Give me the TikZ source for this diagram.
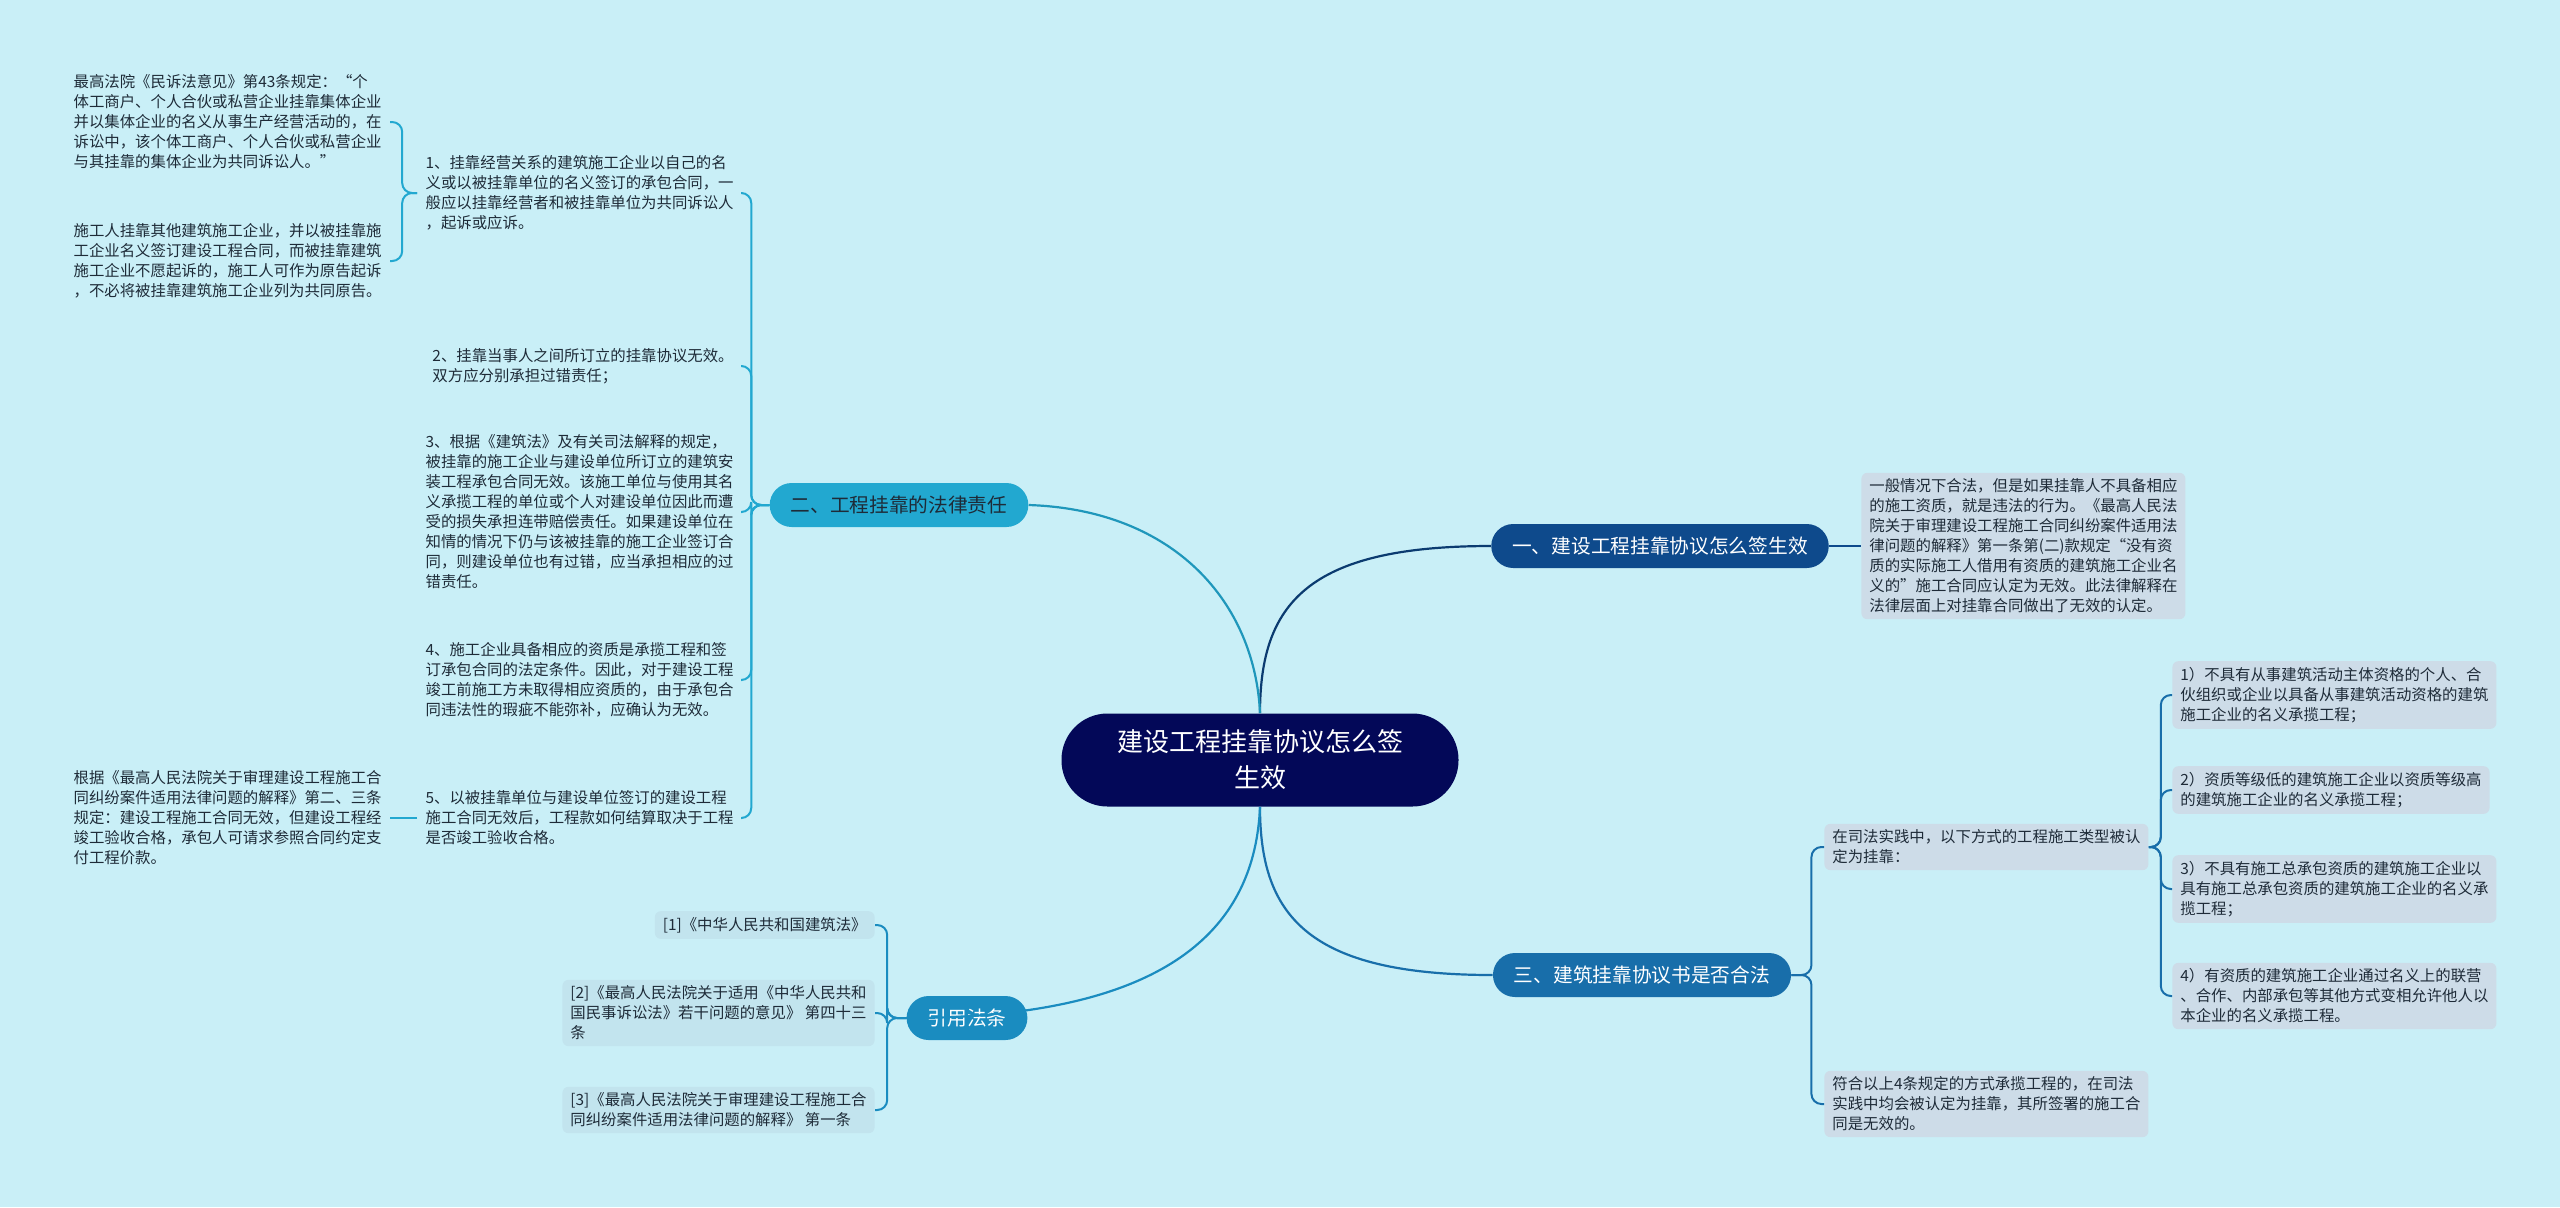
\documentclass[tikz,border=0pt]{standalone}
\usepackage{fontspec}
\setmainfont{Noto Sans CJK SC}
\definecolor{bgcol}{HTML}{C9EFF7}
\definecolor{rootcol}{HTML}{030858}
\definecolor{onecol}{HTML}{0E4A8C}
\definecolor{twocol}{HTML}{22A8D0}
\definecolor{threecol}{HTML}{186EAA}
\definecolor{refcol}{HTML}{1A8CC0}
\definecolor{leafcol}{HTML}{CDDCE8}
\definecolor{reffill}{HTML}{C2E4EE}
\definecolor{inkcol}{HTML}{1E2B38}
\begin{document}
\begin{tikzpicture}[x=0.5pt,y=-0.5pt,
    every node/.style={font=\fontsize{7.7pt}{10pt}\selectfont, text=inkcol},
    topic/.style={rounded corners=11pt, minimum height=22pt, inner xsep=10.5pt,
        font=\fontsize{9.85pt}{12pt}\selectfont, text=white},
    leaf/.style={align=left, inner xsep=4pt, inner ysep=3pt, rounded corners=3pt},
    main/.style={line width=1.1pt},
    brk/.style={line width=1pt, rounded corners=5pt}]
    \fill[bgcol] (0,0) rectangle (2560,1207);

    \node[fill=rootcol, rounded corners=23pt, minimum width=198.5pt, minimum height=46.5pt,
        align=center, text=white, font=\fontsize{13pt}{18pt}\selectfont] (root) at (1260,760)
        {建设工程挂靠协议怎么签\\生效};
    \node[topic, fill=onecol] (one) at (1660,546) {一、建设工程挂靠协议怎么签生效};
    \node[topic, fill=twocol, text=inkcol] (two) at (899,505) {二、工程挂靠的法律责任};
    \node[topic, fill=threecol] (three) at (1642,975) {三、建筑挂靠协议书是否合法};
    \node[topic, fill=refcol] (cite) at (967,1018) {引用法条};

    \draw[main, draw=onecol!80!black] (root.north) .. controls (1260,604) and (1307,546) .. (one.west);
    \draw[main, draw=twocol!90!black] (root.north) .. controls (1255,604) and (1176,510) .. (two.east);
    \draw[main, draw=threecol] (root.south) .. controls (1260,915) and (1307,975) .. (three.west);
    \draw[main, draw=refcol] (root.south) .. controls (1255,923) and (1176,1018) .. (cite.west);

    % 一
    \node[leaf, fill=leafcol, anchor=west] (oneA) at (1861,546)
        {一般情况下合法，但是如果挂靠人不具备相应\\的施工资质，就是违法的行为。《最高人民法\\院关于审理建设工程施工合同纠纷案件适用法\\律问题的解释》第一条第(二)款规定“没有资\\质的实际施工人借用有资质的建筑施工企业名\\义的”施工合同应认定为无效。此法律解释在\\法律层面上对挂靠合同做出了无效的认定。};
    \draw[brk, draw=onecol] (one.east) -- (oneA.west);

    % 三
    \node[leaf, fill=leafcol, anchor=west] (practice) at (1824,847)
        {在司法实践中，以下方式的工程施工类型被认\\定为挂靠：};
    \node[leaf, fill=leafcol, anchor=west] (verdict) at (1824,1104)
        {符合以上4条规定的方式承揽工程的，在司法\\实践中均会被认定为挂靠，其所签署的施工合\\同是无效的。};
    \node[leaf, fill=leafcol, anchor=west] (typeA) at (2172,695)
        {1）不具有从事建筑活动主体资格的个人、合\\伙组织或企业以具备从事建筑活动资格的建筑\\施工企业的名义承揽工程；};
    \node[leaf, fill=leafcol, anchor=west] (typeB) at (2172,790)
        {2）资质等级低的建筑施工企业以资质等级高\\的建筑施工企业的名义承揽工程；};
    \node[leaf, fill=leafcol, anchor=west] (typeC) at (2172,889)
        {3）不具有施工总承包资质的建筑施工企业以\\具有施工总承包资质的建筑施工企业的名义承\\揽工程；};
    \node[leaf, fill=leafcol, anchor=west] (typeD) at (2172,996)
        {4）有资质的建筑施工企业通过名义上的联营\\、合作、内部承包等其他方式变相允许他人以\\本企业的名义承揽工程。};
    \foreach \kid in {practice,verdict}
        \draw[brk, draw=threecol] (three.east) -- ++(10pt,0) |- (\kid.west);
    \foreach \kid in {typeA,typeB,typeC,typeD}
        \draw[brk, draw=threecol] (practice.east) -- ++(6pt,0) |- (\kid.west);

    % 二
    \node[leaf, anchor=east] (dutyA) at (742,193)
        {1、挂靠经营关系的建筑施工企业以自己的名\\义或以被挂靠单位的名义签订的承包合同，一\\般应以挂靠经营者和被挂靠单位为共同诉讼人\\，起诉或应诉。};
    \node[leaf, anchor=east] (dutyB) at (742,366)
        {2、挂靠当事人之间所订立的挂靠协议无效。\\双方应分别承担过错责任；};
    \node[leaf, anchor=east] (dutyC) at (742,512)
        {3、根据《建筑法》及有关司法解释的规定，\\被挂靠的施工企业与建设单位所订立的建筑安\\装工程承包合同无效。该施工单位与使用其名\\义承揽工程的单位或个人对建设单位因此而遭\\受的损失承担连带赔偿责任。如果建设单位在\\知情的情况下仍与该被挂靠的施工企业签订合\\同，则建设单位也有过错，应当承担相应的过\\错责任。};
    \node[leaf, anchor=east] (dutyD) at (742,680)
        {4、施工企业具备相应的资质是承揽工程和签\\订承包合同的法定条件。因此，对于建设工程\\竣工前施工方未取得相应资质的，由于承包合\\同违法性的瑕疵不能弥补，应确认为无效。};
    \node[leaf, anchor=east] (dutyE) at (742,818)
        {5、以被挂靠单位与建设单位签订的建设工程\\施工合同无效后，工程款如何结算取决于工程\\是否竣工验收合格。};
    \foreach \kid in {dutyA,dutyB,dutyC,dutyD,dutyE}
        \draw[brk, draw=twocol] (two.west) -- ++(-9pt,0) |- (\kid.east);

    \node[leaf, anchor=east] (courtA) at (390,122)
        {最高法院《民诉法意见》第43条规定：“个\\体工商户、个人合伙或私营企业挂靠集体企业\\并以集体企业的名义从事生产经营活动的，在\\诉讼中，该个体工商户、个人合伙或私营企业\\与其挂靠的集体企业为共同诉讼人。”};
    \node[leaf, anchor=east] (courtB) at (390,261)
        {施工人挂靠其他建筑施工企业，并以被挂靠施\\工企业名义签订建设工程合同，而被挂靠建筑\\施工企业不愿起诉的，施工人可作为原告起诉\\，不必将被挂靠建筑施工企业列为共同原告。};
    \foreach \kid in {courtA,courtB}
        \draw[brk, draw=twocol] (dutyA.west) -- ++(-7.5pt,0) |- (\kid.east);
    \node[leaf, anchor=east] (payRule) at (390,818)
        {根据《最高人民法院关于审理建设工程施工合\\同纠纷案件适用法律问题的解释》第二、三条\\规定：建设工程施工合同无效，但建设工程经\\竣工验收合格，承包人可请求参照合同约定支\\付工程价款。};
    \draw[brk, draw=twocol] (dutyE.west) -- (payRule.east);

    % 引用法条
    \node[leaf, fill=reffill, anchor=east] (lawA) at (875,925)
        {[1]《中华人民共和国建筑法》};
    \node[leaf, fill=reffill, anchor=east] (lawB) at (875,1013)
        {[2]《最高人民法院关于适用《中华人民共和\\国民事诉讼法》若干问题的意见》 第四十三\\条};
    \node[leaf, fill=reffill, anchor=east] (lawC) at (875,1110)
        {[3]《最高人民法院关于审理建设工程施工合\\同纠纷案件适用法律问题的解释》 第一条};
    \foreach \kid in {lawA,lawB,lawC}
        \draw[brk, draw=refcol] (cite.west) -- ++(-9.5pt,0) |- (\kid.east);
\end{tikzpicture}
\end{document}
